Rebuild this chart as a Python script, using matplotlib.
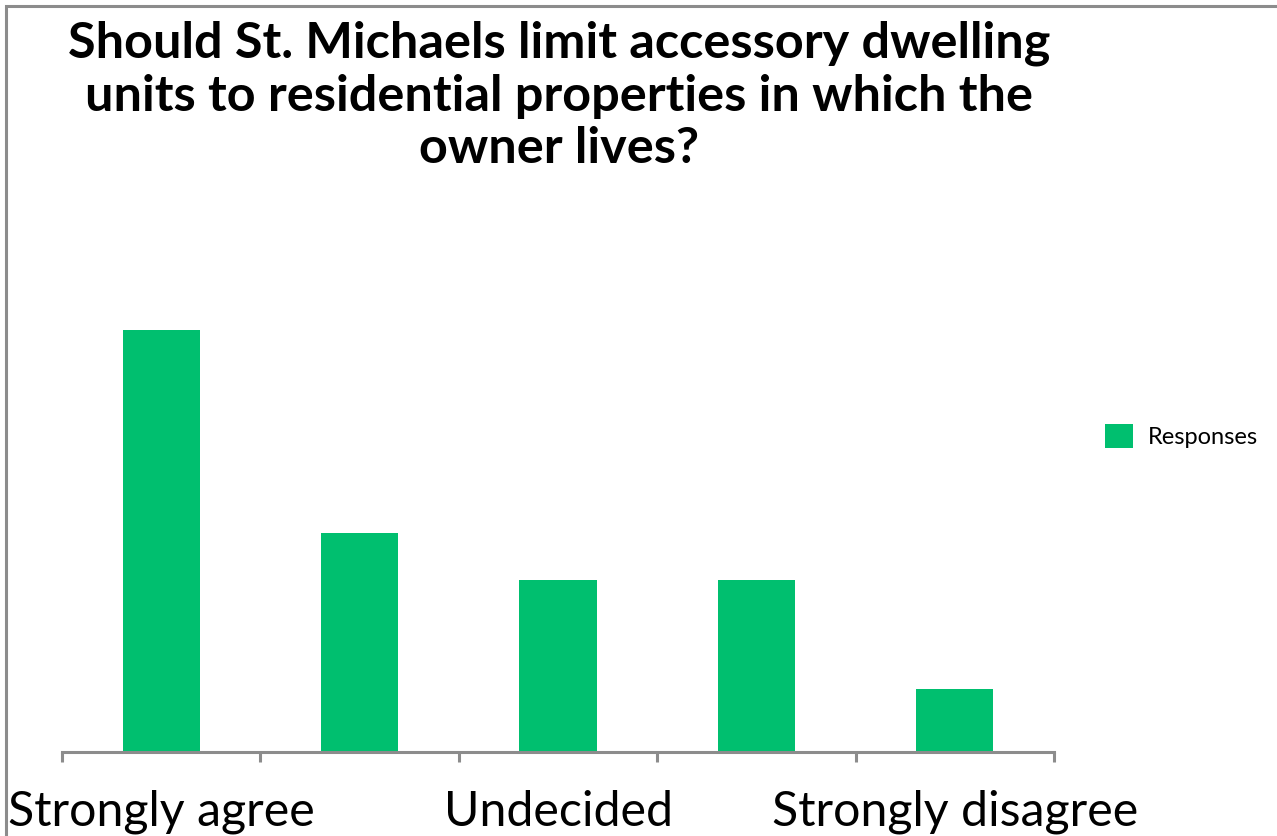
import matplotlib
matplotlib.use("Agg")
import matplotlib.pyplot as plt
import matplotlib.transforms as mtransforms
from matplotlib.patches import Rectangle

categories = ["Strongly agree", "Agree", "Undecided", "Disagree", "Strongly disagree"]
responses = [27, 14, 11, 11, 4]
series_name = "Responses"
title = "Should St. Michaels limit accessory dwelling\nunits to residential properties in which the\nowner lives?"

W, H = 1277, 836
fig = plt.figure(figsize=(W / 100, H / 100), dpi=100)
renderer = fig.canvas.get_renderer()


def fit_width(txt, target_px):
    """Scale a text's font size so its rendered width hits target_px."""
    for _ in range(3):
        bb = txt.get_window_extent(renderer=renderer)
        txt.set_fontsize(txt.get_fontsize() * target_px / bb.width)


# outer frame (top and left edges visible)
fig.patches.append(Rectangle((6 / W, -0.1), 1.2, 1 - 6 / H + 0.1, transform=fig.transFigure,
                             fill=False, edgecolor="#8c8c8c", linewidth=2.2, zorder=0))

ax = fig.add_axes([62 / W, (H - 752) / H, 992 / W, (752 - 200) / H])
x = list(range(len(categories)))
ax.bar(x, responses, width=0.39, color="#00bf6f", zorder=2, label=series_name)
ax.set_xlim(-0.5, len(categories) - 0.5)
ax.set_ylim(0, 552 / 15.63)

for s in ["top", "right", "left"]:
    ax.spines[s].set_visible(False)
ax.spines["bottom"].set_color("#8c8c8c")
ax.spines["bottom"].set_linewidth(2.2)
ax.set_yticks([])
ax.set_xticks([i - 0.5 for i in range(len(categories) + 1)])
ax.set_xticklabels([])
ax.tick_params(axis="x", length=7, width=2.2, color="#8c8c8c", direction="out")

# category labels (every other one shown), baseline near the bottom edge
label_tf = mtransforms.blended_transform_factory(ax.transData, fig.transFigure)
label_texts = [ax.text(i, (H - 826) / H, c, transform=label_tf, ha="center", va="baseline",
                       fontsize=30, family="Lato", color="black")
               for i, c in enumerate(categories) if i % 2 == 0]
fit_width(label_texts[2], 366)
for t in label_texts:
    t.set_fontsize(label_texts[2].get_fontsize())

# title: last line's baseline placed at y=163 px
ttl = fig.text(559 / W, 1 - 163 / H, title, ha="center", va="baseline", fontsize=30,
               fontweight="bold", family="Lato", linespacing=1.2)
fit_width(ttl, 982)

leg = ax.legend(loc="center left", bbox_to_anchor=(1.03, 0.572), frameon=False,
                handlelength=1.2, handleheight=1.2, handletextpad=0.6,
                prop={"family": "Lato", "size": 17})

fig.savefig("out.png", dpi=100, facecolor="white")
